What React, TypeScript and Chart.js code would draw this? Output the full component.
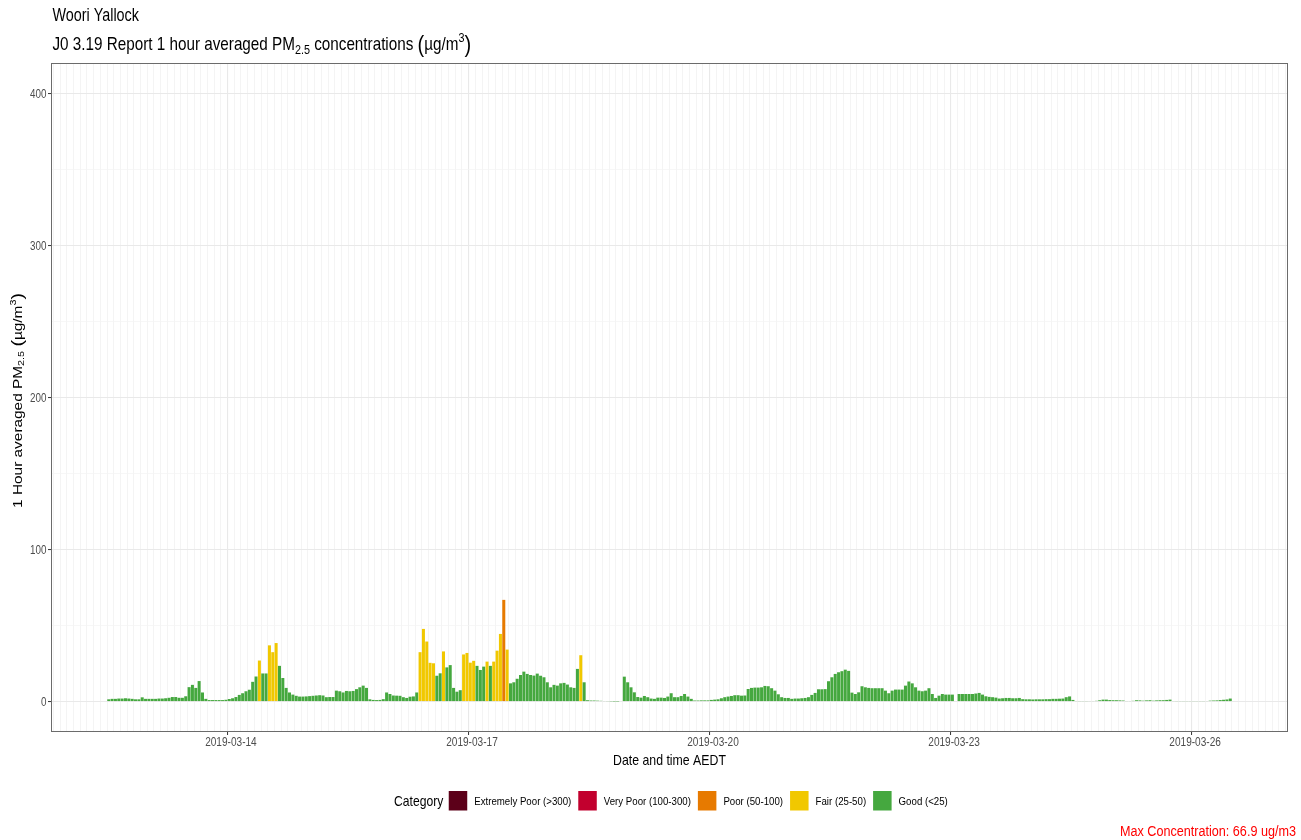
import React, { useEffect, useRef } from 'react';
import { Chart, registerables } from 'chart.js';

Chart.register(...registerables);

// Hourly 1-hour averaged PM2.5 (µg/m³) at Woori Yallock, one array per day (AEDT).
// The first reading is the 2019-03-12 12:00 hour; null marks an hour with no reading.
const mar12: (number | null)[] = [1.5, 1.8, 1.8, 2.0, 2.0, 2.2, 2.0, 1.8, 1.5, 1.5, 2.8, 1.8];
const mar13: (number | null)[] = [1.8, 1.8, 1.8, 2.0, 2.0, 2.2, 2.5, 3.0, 3.0, 2.5, 2.5, 3.5, 9.5, 11, 9, 13.5, 6, 1.8, 1.0, 1.0, 1.0, 1.0, 1.0, 1.2];
const mar14: (number | null)[] = [1.7, 2.2, 3.0, 4.4, 5.5, 6.8, 7.8, 13, 16.5, 27, 18.5, 18.5, 37, 32.5, 38.5, 23.5, 15.5, 9, 6, 4.6, 3.8, 3.3, 3.3, 3.4];
const mar15: (number | null)[] = [3.6, 3.8, 4.0, 4.2, 4.0, 2.9, 3.0, 3.0, 7.2, 6.8, 6.0, 7.0, 6.8, 7.0, 8.2, 9.4, 10.5, 9.0, 1.5, 1.1, 1.0, 1.1, 1.6, 6.0];
const mar16: (number | null)[] = [5.0, 4.0, 3.9, 3.8, 2.9, 2.4, 3.2, 3.4, 6.0, 32.5, 47.8, 39.5, 25.5, 25.2, 17.0, 18.6, 33, 22.5, 24.0, 9.0, 6.5, 7.5, 31.0, 32.0];
const mar17: (number | null)[] = [25.6, 26.8, 23.5, 20.8, 23.0, 26.3, 23.5, 26.3, 33.5, 44.5, 66.9, 34.2, 12.0, 12.7, 15.0, 17.5, 19.7, 18.2, 17.5, 17.1, 18.4, 17.0, 16.0, 12.7];
const mar18: (number | null)[] = [9.4, 11.0, 10.5, 12.0, 12.3, 11.2, 9.4, 9.0, 21.5, 30.5, 12.7, 0.9, 0.7, 0.7, 0.6, 0.5, 0.4, 0.3, 0.2, 0.1, 0.1, null, 16.4, 12.7];
const mar19: (number | null)[] = [9.4, 6.1, 3.0, 2.6, 3.7, 2.9, 2.0, 1.8, 2.6, 2.6, 2.4, 3.3, 5.5, 2.9, 2.9, 3.7, 5.0, 3.3, 1.8, 0.7, 0.7, 0.8, 0.8, 0.8];
const mar20: (number | null)[] = [1.1, 1.3, 1.5, 2.2, 2.9, 3.3, 3.7, 4.2, 4.2, 3.9, 4.0, 8.3, 9.0, 9.2, 9.2, 9.4, 10.3, 10.1, 8.8, 7.2, 4.8, 2.9, 2.4, 2.4];
const mar21: (number | null)[] = [1.8, 2.0, 2.0, 2.2, 2.4, 2.9, 4.4, 5.7, 8.1, 8.1, 8.2, 13.4, 16.0, 18.2, 19.3, 20.0, 21.0, 20.2, 5.9, 5.0, 6.1, 10.1, 9.4, 9.0];
const mar22: (number | null)[] = [8.8, 8.8, 8.8, 8.8, 7.2, 5.5, 7.2, 7.9, 7.9, 7.9, 10.5, 13.2, 12.0, 9.4, 7.2, 6.8, 7.2, 8.8, 5.0, 2.4, 3.9, 5.0, 4.6, 4.6];
const mar23: (number | null)[] = [4.6, null, 5.0, 5.0, 5.0, 5.0, 5.0, 5.3, 5.7, 4.6, 3.5, 3.1, 2.9, 2.6, 2.0, 2.2, 2.4, 2.4, 2.2, 2.2, 2.4, 1.6, 1.5, 1.5];
const mar24: (number | null)[] = [1.4, 1.5, 1.5, 1.5, 1.6, 1.6, 1.8, 1.8, 1.9, 2.0, 2.9, 3.4, 1.1, 0.4, 0.3, 0.3, 0.3, 0.4, 0.4, 0.5, 0.9, 1.3, 1.3, 1.0];
const mar25: (number | null)[] = [0.9, 0.9, 0.8, 0.7, 0.4, 0.4, 0.5, 0.9, 0.8, 0.6, 0.8, 0.9, 0.6, 0.8, 0.9, 0.9, 1.1, 1.3, 0.4, 0.3, 0.3, 0.3, 0.3, 0.3];
const mar26: (number | null)[] = [0.3, 0.3, 0.3, 0.3, 0.4, 0.6, 0.7, 0.8, 1.0, 1.2, 1.4, 2.0];

// Hours are counted from 2019-03-14 00:00 AEDT; each bar sits at the middle of its hour,
// so the first reading (12:00-13:00 on the 12th) is centred 36.5 hours earlier.
const firstReadingHour = -36.5;

// Date labels on the time axis (hours from 2019-03-14 00:00)
const dateTickHours = [0, 72, 144, 216, 288];
const dateTickLabels = ['2019-03-14', '2019-03-17', '2019-03-20', '2019-03-23', '2019-03-26'];

// Concentration axis
const valueTicks = [0, 100, 200, 300, 400];
const valueMinorTicks = [50, 150, 250, 350];

// Air quality categories (legend order) and their lower bounds
const categoryNames = ['Extremely Poor (>300)', 'Very Poor (100-300)', 'Poor (50-100)', 'Fair (25-50)', 'Good (<25)'];
const categoryColors = ['#5C0019', '#C2002E', '#E77A00', '#F1C800', '#45A83F'];
const categoryFloors = [300, 100, 50, 25, 0];

const siteName = 'Woori Yallock';

const pm25: (number | null)[] = [
  ...mar12, ...mar13, ...mar14, ...mar15, ...mar16, ...mar17, ...mar18,
  ...mar19, ...mar20, ...mar21, ...mar22, ...mar23, ...mar24, ...mar25, ...mar26,
];

const readingHours = pm25.map((_, i) => firstReadingHour + i);

function colourFor(v: number | null): string {
  if (v === null) return 'rgba(0,0,0,0)';
  const idx = categoryFloors.findIndex((f) => v >= f);
  return categoryColors[idx < 0 ? categoryColors.length - 1 : idx];
}

// Text is drawn slightly condensed along its run, like the rest of the figure.
const SQUEEZE = 0.82;
const FONT = '"Liberation Sans", Arial, Helvetica, sans-serif';

type Run = { t: string; size: number; dy?: number };

function runsWidth(ctx: CanvasRenderingContext2D, runs: Run[]): number {
  let w = 0;
  for (const r of runs) {
    ctx.font = `${r.size}px ${FONT}`;
    w += ctx.measureText(r.t).width;
  }
  return w;
}

function drawRuns(
  ctx: CanvasRenderingContext2D,
  runs: Run[],
  x: number,
  y: number,
  align: 'left' | 'center' | 'right',
  color: string,
  vertical = false,
): number {
  ctx.save();
  ctx.fillStyle = color;
  ctx.textBaseline = 'alphabetic';
  ctx.textAlign = 'left';
  const w = runsWidth(ctx, runs);
  ctx.translate(x, y);
  if (vertical) {
    ctx.rotate(-Math.PI / 2);
    ctx.scale(1, SQUEEZE);
  } else {
    ctx.scale(SQUEEZE, 1);
  }
  let cx = align === 'center' ? -w / 2 : align === 'right' ? -w : 0;
  for (const r of runs) {
    ctx.font = `${r.size}px ${FONT}`;
    ctx.fillText(r.t, cx, r.dy || 0);
    cx += ctx.measureText(r.t).width;
  }
  ctx.restore();
  return vertical ? w : w * SQUEEZE;
}

function drawText(
  ctx: CanvasRenderingContext2D,
  t: string,
  x: number,
  y: number,
  size: number,
  align: 'left' | 'center' | 'right',
  color: string,
): number {
  return drawRuns(ctx, [{ t, size }], x, y, align, color);
}

const decorations = {
  id: 'decorations',
  beforeDraw(chart: Chart) {
    const { ctx, width, height } = chart;
    ctx.save();
    ctx.fillStyle = '#ffffff';
    ctx.fillRect(0, 0, width, height);
    ctx.restore();
  },
  afterDraw(chart: Chart) {
    const { ctx, chartArea } = chart;
    const xs = chart.scales.x;
    const ys = chart.scales.y;

    // panel border
    ctx.save();
    ctx.strokeStyle = '#6b6b6b';
    ctx.lineWidth = 1;
    ctx.strokeRect(chartArea.left + 0.5, chartArea.top + 0.5, chartArea.right - chartArea.left - 1, chartArea.bottom - chartArea.top - 1);
    ctx.restore();

    // tick labels
    dateTickHours.forEach((h, i) => {
      drawText(ctx, dateTickLabels[i], xs.getPixelForValue(h), chartArea.bottom + 14, 12.3, 'center', '#4d4d4d');
    });
    valueTicks.forEach((v) => {
      drawText(ctx, String(v), chartArea.left - 4.5, ys.getPixelForValue(v) + 4.3, 12, 'right', '#4d4d4d');
    });

    // axis titles
    const midX = (chartArea.left + chartArea.right) / 2;
    const midY = (chartArea.top + chartArea.bottom) / 2;
    drawText(ctx, 'Date and time AEDT', midX, chartArea.bottom + 33, 15, 'center', '#000000');
    drawRuns(
      ctx,
      [
        { t: '1 Hour averaged PM', size: 15.4 },
        { t: '2.5', size: 10.8, dy: 3.6 },
        { t: ' ', size: 15.4 },
        { t: '(', size: 19.5, dy: 1.5 },
        { t: 'µg/m', size: 15.4 },
        { t: '3', size: 10.8, dy: -6.2 },
        { t: ')', size: 19.5, dy: 1.5 },
      ],
      21.5,
      midY + 3,
      'center',
      '#000000',
      true,
    );

    // titles
    drawText(ctx, siteName, 52.5, 20.5, 17.5, 'left', '#000000');
    drawRuns(
      ctx,
      [
        { t: 'J0 3.19 Report 1 hour averaged PM', size: 18.6 },
        { t: '2.5', size: 13.2, dy: 4.6 },
        { t: ' concentrations ', size: 18.6 },
        { t: '(', size: 24.5, dy: 2 },
        { t: 'µg/m', size: 18.6 },
        { t: '3', size: 13.2, dy: -8 },
        { t: ')', size: 24.5, dy: 2 },
      ],
      52.5,
      49.5,
      'left',
      '#000000',
    );

    // legend
    let kx = 394;
    kx += drawText(ctx, 'Category', kx, 806, 14.8, 'left', '#000000') + 5.5;
    categoryNames.forEach((name, i) => {
      ctx.save();
      ctx.fillStyle = categoryColors[i];
      ctx.fillRect(kx, 791, 18.5, 19.5);
      ctx.restore();
      kx += 25.5;
      kx += drawText(ctx, name, kx, 804.5, 11.8, 'left', '#000000') + 7;
    });

    // maximum reading
    const maxValue = Math.max(...pm25.filter((v): v is number => v !== null));
    drawText(ctx, `Max Concentration: ${maxValue.toFixed(1)} ug/m3`, 1296, 836, 15.4, 'right', '#ff0000');
  },
};

const barHalf = 0.45;
const dataSpan = readingHours[readingHours.length - 1] - readingHours[0] + 2 * barHalf;
const xMin = readingHours[0] - barHalf - 0.05 * dataSpan;
const xMax = readingHours[readingHours.length - 1] + barHalf + 0.05 * dataSpan;

const gridHours: number[] = [];
for (let h = Math.ceil(xMin / 2) * 2; h <= xMax; h += 2) gridHours.push(h);

const isDateTick = (v: number) => dateTickHours.includes(v);
const isValueTick = (v: number) => valueTicks.includes(v);

export default function App() {
  const canvasRef = useRef<HTMLCanvasElement>(null);

  useEffect(() => {
    const canvas = canvasRef.current;
    if (!canvas) return;
    const chart = new Chart(canvas, {
      type: 'bar',
      data: {
        datasets: [
          {
            data: pm25.map((v, i) => ({ x: readingHours[i], y: v })) as any,
            backgroundColor: pm25.map(colourFor),
            borderWidth: 0,
            barPercentage: 0.9,
            categoryPercentage: 1,
          },
        ],
      },
      options: {
        animation: false,
        responsive: false,
        maintainAspectRatio: false,
        devicePixelRatio: 1,
        layout: { padding: { top: 63, right: 13, bottom: 0, left: 0 } },
        plugins: {
          legend: { display: false },
          tooltip: { enabled: false },
        },
        scales: {
          x: {
            type: 'linear',
            min: xMin,
            max: xMax,
            offset: false,
            afterBuildTicks: (s: any) => {
              s.ticks = gridHours.map((v) => ({ value: v }));
            },
            afterFit: (s: any) => {
              s.height = 108;
            },
            ticks: { display: false },
            border: { display: false },
            grid: {
              color: (c: any) => (c.tick && isDateTick(c.tick.value) ? '#e9e9e9' : '#f1f1f1'),
              lineWidth: (c: any) => (c.tick && isDateTick(c.tick.value) ? 1.1 : 0.8),
              drawTicks: true,
              tickLength: 3,
              tickColor: (c: any) => (c.tick && isDateTick(c.tick.value) ? '#333333' : 'rgba(0,0,0,0)'),
              tickWidth: 1,
            },
          },
          y: {
            type: 'linear',
            min: -20,
            max: 420,
            afterBuildTicks: (s: any) => {
              s.ticks = [...valueTicks, ...valueMinorTicks].sort((a, b) => a - b).map((v) => ({ value: v }));
            },
            afterFit: (s: any) => {
              s.width = 51;
            },
            ticks: { display: false },
            border: { display: false },
            grid: {
              color: (c: any) => (c.tick && isValueTick(c.tick.value) ? '#e9e9e9' : '#f3f3f3'),
              lineWidth: (c: any) => (c.tick && isValueTick(c.tick.value) ? 1.1 : 0.7),
              drawTicks: true,
              tickLength: 3,
              tickColor: (c: any) => (c.tick && isValueTick(c.tick.value) ? '#333333' : 'rgba(0,0,0,0)'),
              tickWidth: 1,
            },
          },
        },
      },
      plugins: [decorations],
    });
    return () => chart.destroy();
  }, []);

  return (
    <div style={{ position: 'absolute', left: 0, top: 0, width: 1301, height: 840, background: '#ffffff' }}>
      <canvas ref={canvasRef} width={1301} height={840} style={{ display: 'block', width: 1301, height: 840 }} />
    </div>
  );
}
